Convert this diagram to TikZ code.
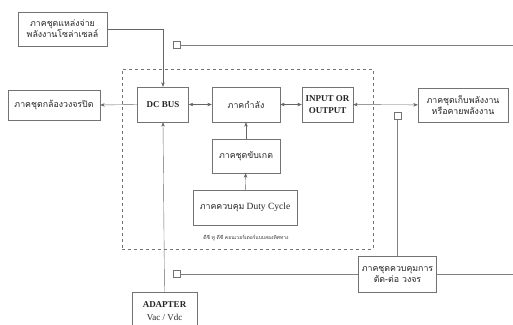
\documentclass[tikz,border=0pt]{standalone}
\usepackage{fontspec}
\setmainfont{Liberation Serif}
\newfontfamily\thai[Script=Thai]{Loma}
\usetikzlibrary{arrows.meta,positioning}

\begin{document}
\begin{tikzpicture}[
    x=1pt, y=-1pt,
    >={Stealth[length=4.5pt,width=3.5pt]},
    font=\fontsize{8.8}{11}\selectfont,
    box/.style={
        draw=black!55,
        thin,
        inner sep=1pt,
        align=center,
        fill=white,
        text=black!85
    },
    latin/.style={font=\fontsize{9}{12}\selectfont\bfseries},
    swbox/.style={
        draw=black!55,
        thin,
        minimum size=7pt,
        inner sep=0pt
    },
    arr/.style={->, black!60, thin},
    dbl/.style={<->, black!60, thin},
    wire/.style={black!50, thin}
]
\clip (0,0) rectangle (513,324);
\useasboundingbox (0,0) rectangle (513,324);

% converter frame
\node[draw=black!55, dashed, thin, minimum width=251pt, minimum height=180pt] (frame) at (247.5,159) {};
\node[text=black!80] (label) at (246,238)
    {\thai\fontsize{5}{6}\selectfont ดีซี ทู ดีซี คอนเวอร์เตอร์แบบสองทิศทาง};

% top row
\node[box, minimum width=89pt, minimum height=34pt] (solar) at (62.5,29)
    {\thai ภาคชุดแหล่งจ่าย\\ \thai พลังงานโซล่าเซลล์};
\node[box, minimum width=92pt, minimum height=30pt] (camera) at (54,105)
    {\thai ภาคชุดกล้องวงจรปิด};
\node[box, latin, minimum width=51pt, minimum height=35pt] (dcbus) at (163,104.5)
    {DC BUS};
\node[box, minimum width=68pt, minimum height=35pt] (power) at (246,104.5)
    {\thai ภาคกำลัง};
\node[box, latin, minimum width=51pt, minimum height=35pt] (inout) at (327.5,104.5)
    {INPUT OR\\OUTPUT};
\node[box, minimum width=90pt, minimum height=34pt] (storage) at (463,105)
    {\thai ภาคชุดเก็บพลังงาน\\ \thai หรือคายพลังงาน};

% inside the frame
\node[box, minimum width=68pt, minimum height=34pt] (gate) at (246,156)
    {\thai ภาคชุดขับเกต};
\node[box, minimum width=104pt, minimum height=35pt] (duty) at (245,207.5)
    {{\thai ภาคควบคุม} \fontsize{9.5}{11}\selectfont Duty Cycle};

% bottom row
\node[box, minimum width=78pt, minimum height=36pt] (switch) at (397.5,274)
    {\thai ภาคชุดควบคุมการ\\ \thai ตัด-ต่อ วงจร};
\node[box, latin, minimum width=65pt, minimum height=38pt, anchor=north] (adapter) at (164.5,292)
    {ADAPTER\\[1pt]\mdseries Vac / Vdc};

% switches
\node[swbox] (sw1) at (176.5,45) {};
\node[swbox] (sw2) at (397.5,116) {};
\node[swbox] (sw3) at (176.5,274) {};
\coordinate (end1) at (513,45);
\coordinate (end3) at (513,274);

% connectors
\draw[arr] (solar.east) -| (dcbus.north);
\draw[arr] (dcbus.west) -- (camera.east);
\draw[dbl] (dcbus) -- (power);
\draw[dbl] (power) -- (inout);
\draw[dbl] (inout) -- (storage);
\draw[arr] (gate) -- (power);
\draw[arr] (duty) -- (gate);
\draw[arr] (adapter.north) -- (dcbus.south);
\draw[wire] (sw1.east) -- (end1);
\draw[wire] (sw2.south) -- (switch.north);
\draw[wire] (sw3.east) -- (switch.west);
\draw[wire] (switch.east) -- (end3);

\end{tikzpicture}
\end{document}
